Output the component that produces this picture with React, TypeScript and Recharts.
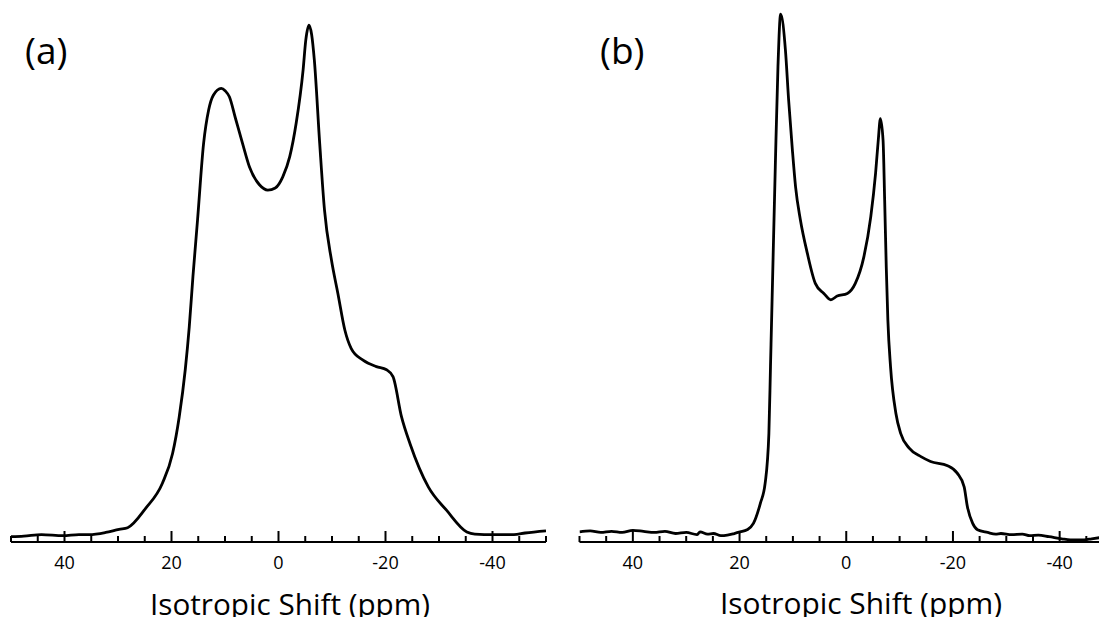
import React from 'react';
import { LineChart, Line, XAxis, YAxis } from 'recharts';

// chemical shift (ppm) and normalised intensity
const ppmA = [50, 47.6, 44.3, 40.3, 37.3, 35.4, 32.3, 29.8, 28.2, 24.8, 21.7, 19.8, 18.56, 17.43, 16.68, 15.99, 15.13, 14.0, 13.06, 12.18, 10.7, 9.93, 9.18, 8.06, 6.75, 5.44, 3.56, 2.0, 0.6, -0.8, -2.1, -3.3, -4.6, -5.1, -5.7, -6.2, -6.7, -7.7, -8.6, -9.9, -11.1, -12.4, -13.6, -15.8, -18.3, -20.2, -21.4, -23.0, -24.6, -28.0, -31.4, -35.2, -36.7, -40.2, -44.0, -46.1, -50];
const intensityA = [1.0, 1.1, 1.4, 1.2, 1.4, 1.4, 1.8, 2.4, 2.7, 6.4, 11.1, 16.7, 23.6, 32.5, 40.6, 50.1, 60.8, 75.2, 81.5, 84.3, 85.6, 85.1, 84.0, 80.0, 75.3, 70.8, 67.4, 66.4, 66.8, 68.9, 72.7, 79.0, 89.1, 94.7, 97.5, 95.7, 90.9, 75.2, 62.6, 53.2, 46.9, 40.0, 36.5, 34.3, 33.1, 32.5, 31.2, 23.6, 18.5, 10.4, 6.0, 1.9, 1.5, 1.4, 1.4, 1.7, 2.1];

const ppmB = [50, 48, 46, 44, 42, 40, 38, 36, 34, 32, 30, 28, 27.4, 26, 24.9, 23.5, 22.3, 21, 19.9, 18.6, 17.4, 16.1, 15.2, 14.5, 14.2, 13.9, 13.3, 12.8, 12.3, 11.4, 10.8, 10.1, 9.5, 8.6, 7.3, 5.8, 4.2, 2.9, 1.7, -0.2, -1.7, -3.3, -4.6, -5.5, -6.0, -6.4, -6.9, -7.2, -7.5, -7.8, -8.3, -9.3, -10.2, -11.8, -14.0, -15.8, -19.0, -20.8, -22.1, -22.7, -23.7, -24.6, -26.5, -28, -29, -31, -33, -34.4, -36, -38, -40.4, -42, -44.6, -46, -48, -50];
const intensityB = [1.9, 2.1, 1.8, 2.0, 1.8, 2.2, 2.0, 1.8, 2.0, 1.6, 1.8, 1.4, 1.9, 1.5, 1.6, 1.2, 1.3, 1.6, 1.9, 2.3, 3.5, 7.3, 11.1, 20.5, 33.1, 45.7, 70.8, 89.7, 99.6, 92.8, 83.4, 74.0, 67.0, 60.8, 54.5, 48.8, 46.9, 45.7, 46.4, 46.9, 48.8, 53.8, 61.4, 69.6, 75.8, 79.9, 75.8, 64.5, 51.9, 41.9, 33.1, 24.3, 20.5, 17.7, 16.1, 15.2, 14.4, 13.0, 10.4, 6.7, 3.5, 2.3, 1.8, 1.5, 1.6, 1.4, 1.5, 1.2, 1.3, 1.0, 0.6, 0.4, 0.4, 0.6, 0.9, 1.2];

const ppmTicks = [50, 45, 40, 35, 30, 25, 20, 15, 10, 5, 0, -5, -10, -15, -20, -25, -30, -35, -40, -45, -50];
const panelLabels = ['(a)', '(b)'];
const axisTitle = 'Isotropic Shift (ppm)';

const spectrumA = ppmA.map((ppm, i) => ({ ppm, intensity: intensityA[i] }));
const spectrumB = ppmB.map((ppm, i) => ({ ppm, intensity: intensityB[i] }));

const FONT = '"Open Sans", "DejaVu Sans", sans-serif';

const PpmTick = (props: any) => {
  const { x, y, payload } = props;
  const v = payload.value;
  const major = v % 20 === 0;
  return (
    <g>
      <line x1={x} x2={x} y1={y} y2={y - (major ? 11 : 6)} stroke="#000" strokeWidth={2} />
      {major && (
        <text x={x} y={y + 27} textAnchor="middle" fontSize={18} fontFamily={FONT} fill="#000">
          {v}
        </text>
      )}
    </g>
  );
};

const Spectrum = ({ data, margin }: { data: any[]; margin: any }) => (
  <LineChart width={560} height={625} data={data} margin={margin}>
    <XAxis
      dataKey="ppm"
      type="number"
      domain={[-50, 50]}
      reversed
      allowDataOverflow
      ticks={ppmTicks}
      interval={0}
      tickLine={false}
      tickSize={0}
      tickMargin={0}
      height={30}
      axisLine={{ stroke: '#000', strokeWidth: 2 }}
      tick={(p: any) => <PpmTick {...p} />}
    />
    <YAxis hide type="number" domain={[0, 100]} allowDataOverflow />
    <Line
      type="monotone"
      dataKey="intensity"
      stroke="#000"
      strokeWidth={2.8}
      dot={false}
      isAnimationActive={false}
    />
  </LineChart>
);

export default function App() {
  return (
    <div style={{ position: 'relative', width: 1107, height: 625, margin: -8, overflow: 'hidden', background: '#fff' }}>
      <div style={{ position: 'absolute', left: 0, top: 0 }}>
        <Spectrum data={spectrumA} margin={{ top: 12, right: 14, bottom: 53, left: 11 }} />
      </div>
      <div style={{ position: 'absolute', left: 566, top: 0 }}>
        <Spectrum data={spectrumB} margin={{ top: 12, right: 13, bottom: 53, left: 13.5 }} />
      </div>
      <svg width={1107} height={625} style={{ position: 'absolute', left: 0, top: 0, pointerEvents: 'none' }}>
        <text x={25} y={64} fontSize={37} fontFamily={FONT} fill="#000">{panelLabels[0]}</text>
        <text x={600} y={64} fontSize={37} fontFamily={FONT} fill="#000">{panelLabels[1]}</text>
        <text x={150} y={615} fontSize={29} fontFamily={FONT} fill="#000" textLength={280} lengthAdjust="spacingAndGlyphs">{axisTitle}</text>
        <text x={720} y={614} fontSize={29} fontFamily={FONT} fill="#000" textLength={282} lengthAdjust="spacingAndGlyphs">{axisTitle}</text>
      </svg>
    </div>
  );
}
